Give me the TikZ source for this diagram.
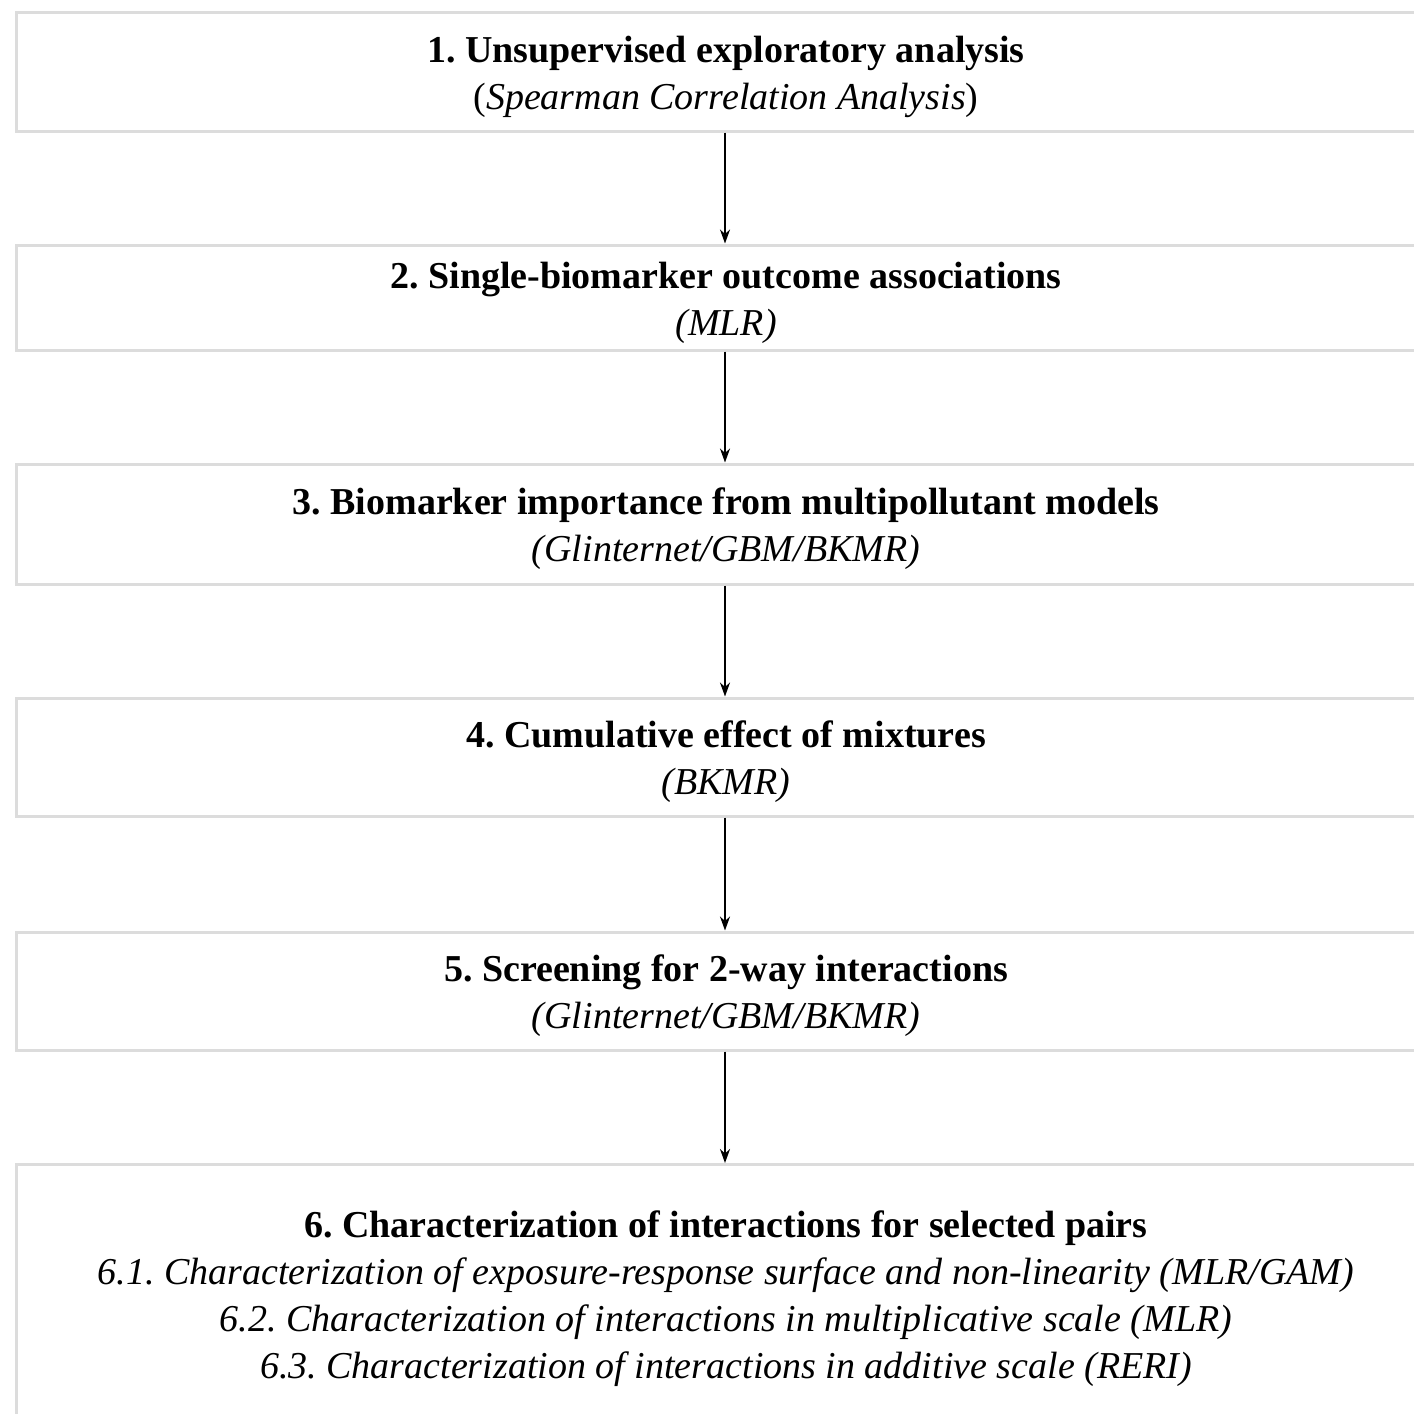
\documentclass[tikz,border=0pt]{standalone}
\usepackage{fontspec}
\setmainfont{Liberation Serif}
\usetikzlibrary{arrows.meta}
\definecolor{boxgray}{HTML}{DCDCDC}
\newcommand\stagetext[1]{\raisebox{-2.3pt}[\height][\depth]{\begin{tabular}{@{}c@{}}#1\end{tabular}}}
\begin{document}
\frenchspacing
\begin{tikzpicture}[x=0.5pt,y=-0.5pt,
  stagebox/.style={draw=boxgray, line width=1.5pt, fill=white, minimum width=710pt,
    inner sep=0pt, font=\fontsize{19}{23.5}\selectfont},
  flow/.style={-{Stealth[length=7pt,width=5pt]}, line width=1pt, black}]
\useasboundingbox[fill=white] (0,0) rectangle (1414,1414);
\node[stagebox, minimum height=59.5pt] (s1) at (726,71.5)
  {\stagetext{\textbf{1. Unsupervised exploratory analysis}\\(\textit{Spearman Correlation Analysis})}};
\node[stagebox, minimum height=52.5pt] (s2) at (726,297.5)
  {\stagetext{\textbf{2. Single-biomarker outcome associations}\\\textit{(MLR)}}};
\node[stagebox, minimum height=60pt] (s3) at (726,524)
  {\stagetext{\textbf{3. Biomarker importance from multipollutant models}\\\textit{(Glinternet/GBM/BKMR)}}};
\node[stagebox, minimum height=59pt] (s4) at (726,757)
  {\stagetext{\textbf{4. Cumulative effect of mixtures}\\\textit{(BKMR)}}};
\node[stagebox, minimum height=59pt] (s5) at (726,991)
  {\stagetext{\textbf{5. Screening for 2-way interactions}\\\textit{(Glinternet/GBM/BKMR)}}};
\node[stagebox, minimum height=131pt] (s6) at (726,1295.5)
  {\raisebox{-1.5pt}[\height][\depth]{\begin{tabular}{@{}c@{}}\textbf{6. Characterization of interactions for selected pairs}\\
   \textit{6.1. Characterization of exposure-response surface and non-linearity (MLR/GAM)}\\
   \textit{6.2. Characterization of interactions in multiplicative scale (MLR)}\\
   \textit{6.3. Characterization of interactions in additive scale (RERI)}\end{tabular}}};
\draw[flow] (s1.south -| 725,0) -- (s2.north -| 725,0);
\draw[flow] (s2.south -| 725,0) -- (s3.north -| 725,0);
\draw[flow] (s3.south -| 725,0) -- (s4.north -| 725,0);
\draw[flow] (s4.south -| 725,0) -- (s5.north -| 725,0);
\draw[flow] (s5.south -| 725,0) -- (s6.north -| 725,0);
\end{tikzpicture}
\end{document}
